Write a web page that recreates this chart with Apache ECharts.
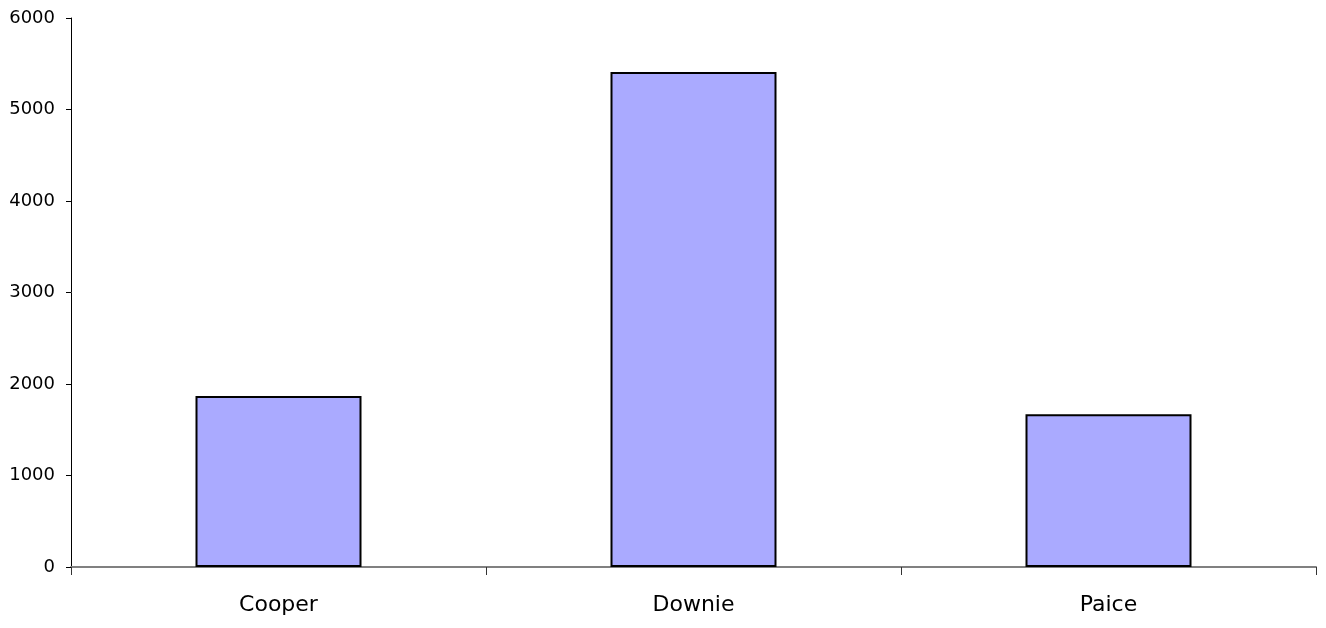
<!DOCTYPE html>
<html><head><meta charset="utf-8">
<script src="https://cdn.jsdelivr.net/npm/echarts@6/dist/echarts.min.js"></script>
<style>html,body{margin:0;padding:0;background:#fff}#c{width:1326px;height:628px}</style>
</head><body><div id="c"></div>
<script>
const categories = ["Cooper", "Downie", "Paice"];
const values = [1870, 5410, 1670];
const yTicks = [0, 1000, 2000, 3000, 4000, 5000, 6000];

const chart = echarts.init(document.getElementById('c'), null, {renderer: 'canvas'});
chart.setOption({
  animation: false,
  backgroundColor: '#ffffff',
  grid: {left: 71, right: 10, top: 18, bottom: 61, containLabel: false},
  xAxis: {
    type: 'category',
    data: categories,
    boundaryGap: true,
    axisLine: {show: true, lineStyle: {color: '#808080', width: 2}},
    axisTick: {show: true, alignWithLabel: false, length: 8, lineStyle: {color: '#333', width: 1}},
    axisLabel: {color: '#000', fontFamily: 'DejaVu Sans', fontSize: 22, margin: 27}
  },
  yAxis: {
    type: 'value',
    min: yTicks[0], max: yTicks[yTicks.length - 1], interval: 1000,
    axisLine: {show: true, lineStyle: {color: '#000', width: 1}},
    axisTick: {show: true, inside: false, length: 5, lineStyle: {color: '#000'}},
    splitLine: {show: false},
    axisLabel: {color: '#000', fontFamily: 'DejaVu Sans', fontSize: 18, margin: 16,
      formatter: function (v) { return String(v); }}
  },
  series: [{
    type: 'bar',
    data: values,
    barWidth: '40%',
    itemStyle: {color: '#AAAAFF', borderColor: '#000', borderWidth: 2}
  }]
});
</script></body></html>
